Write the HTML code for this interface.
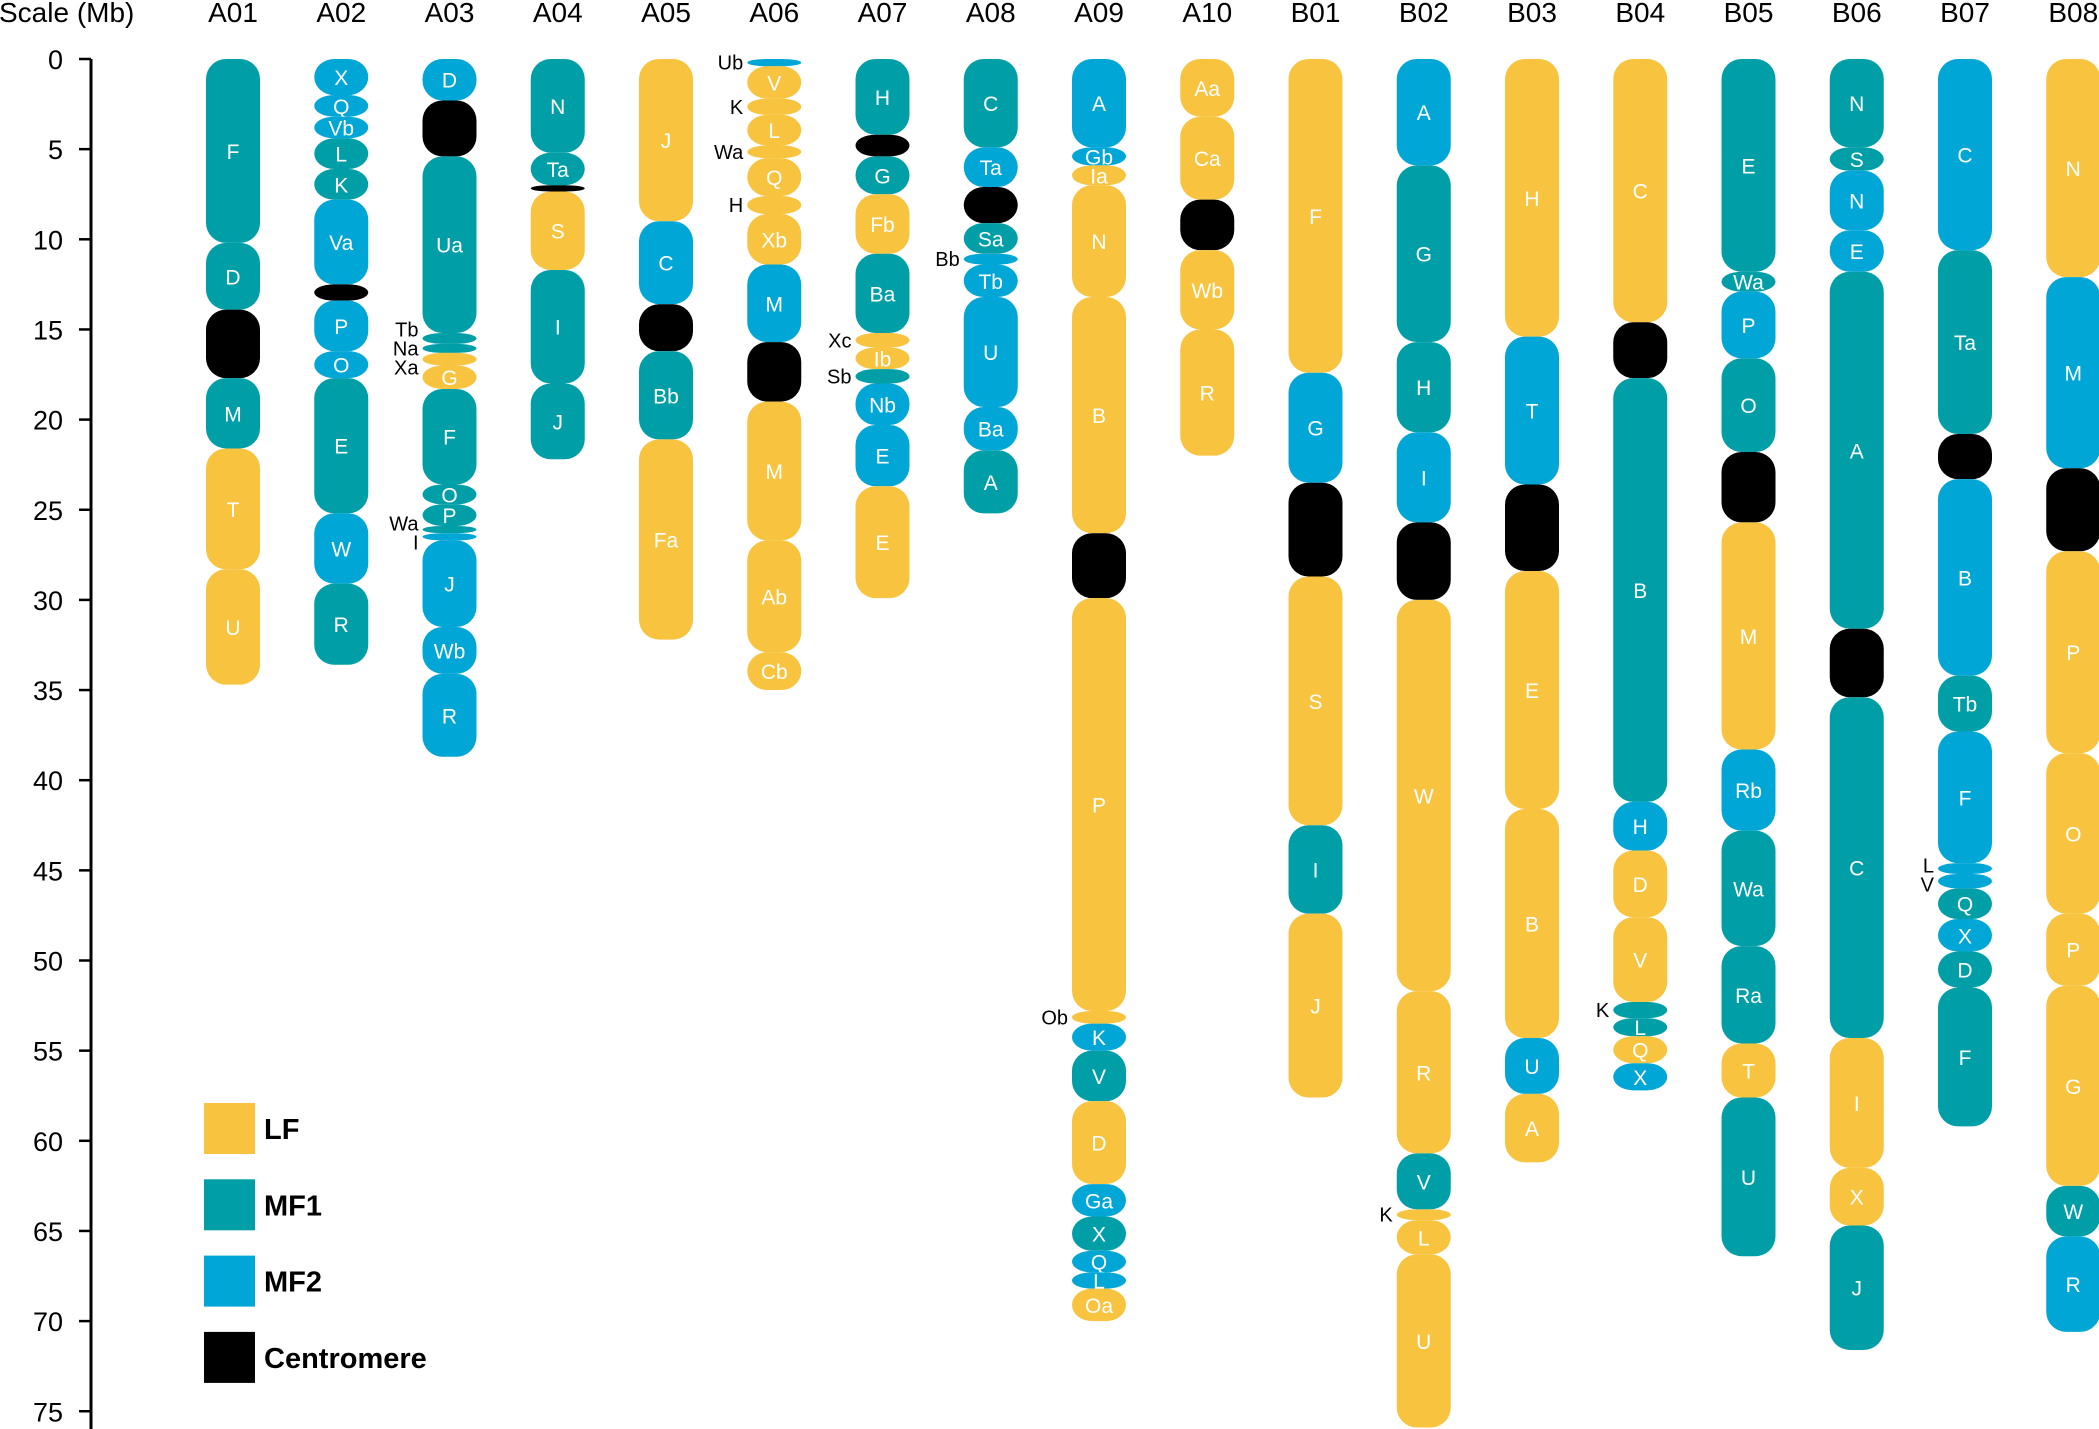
<!DOCTYPE html>
<html><head><meta charset="utf-8"><style>
html,body{margin:0;padding:0;background:#fff;}
svg{display:block;font-family:"Liberation Sans",Arial,sans-serif;}
</style></head><body>
<svg id="chart" width="2099" height="1429" viewBox="0 0 2099 1429" xmlns="http://www.w3.org/2000/svg"></svg>
<script>
const chromNames = ["A01","A02","A03","A04","A05","A06","A07","A08","A09","A10","B01","B02","B03","B04","B05","B06","B07","B08"];
const tickValues = [0,5,10,15,20,25,30,35,40,45,50,55,60,65,70,75];
const legendLabels = ["LF","MF1","MF2","Centromere"];
const legendTypes = ["LF","MF1","MF2","C"];
// segments: [label, type, start(Mb), end(Mb), outsideLabel]
const A01 = [["F","MF1",0,10.2],["D","MF1",10.2,13.9],["","C",13.9,17.7],["M","MF1",17.7,21.6],["T","LF",21.6,28.3],["U","LF",28.3,34.7]];
const A02 = [["X","MF2",0,2.0],["Q","MF2",2.0,3.2],["Vb","MF2",3.2,4.4],["L","MF1",4.4,6.1],["K","MF1",6.1,7.8],["Va","MF2",7.8,12.5],["","C",12.5,13.4],["P","MF2",13.4,16.2],["O","MF2",16.2,17.7],["E","MF1",17.7,25.2],["W","MF2",25.2,29.1],["R","MF1",29.1,33.6]];
const A03 = [["D","MF2",0,2.3],["","C",2.3,5.4],["Ua","MF1",5.4,15.2],["Tb","MF1",15.2,15.8,1],["Na","MF1",15.8,16.3,1],["Xa","LF",16.3,17.0,1],["G","LF",17.0,18.3],["F","MF1",18.3,23.6],["O","MF1",23.6,24.7],["P","MF1",24.7,25.9],["Wa","MF1",25.9,26.3,1],["I","MF2",26.3,26.7,1],["J","MF2",26.7,31.5],["Wb","MF2",31.5,34.1],["R","MF2",34.1,38.7]];
const A04 = [["N","MF1",0,5.2],["Ta","MF1",5.2,7.0],["","C",7.0,7.35],["S","LF",7.35,11.7],["I","MF1",11.7,18.0],["J","MF1",18.0,22.2]];
const A05 = [["J","LF",0,9.0],["C","MF2",9.0,13.6],["","C",13.6,16.2],["Bb","MF1",16.2,21.1],["Fa","LF",21.1,32.2]];
const A06 = [["Ub","MF2",0,0.4,1],["V","LF",0.4,2.2],["K","LF",2.2,3.1,1],["L","LF",3.1,4.8],["Wa","LF",4.8,5.5,1],["Q","LF",5.5,7.6],["H","LF",7.6,8.6,1],["Xb","LF",8.6,11.4],["M","MF2",11.4,15.7],["","C",15.7,19.0],["M","LF",19.0,26.7],["Ab","LF",26.7,32.9],["Cb","LF",32.9,35.0]];
const A07 = [["H","MF1",0,4.2],["","C",4.2,5.4],["G","MF1",5.4,7.5],["Fb","LF",7.5,10.8],["Ba","MF1",10.8,15.2],["Xc","LF",15.2,16.0,1],["Ib","LF",16.0,17.2],["Sb","MF1",17.2,18.0,1],["Nb","MF2",18.0,20.3],["E","MF2",20.3,23.7],["E","LF",23.7,29.9]];
const A08 = [["C","MF1",0,4.9],["Ta","MF2",4.9,7.1],["","C",7.1,9.1],["Sa","MF1",9.1,10.8],["Bb","MF2",10.8,11.4,1],["Tb","MF2",11.4,13.2],["U","MF2",13.2,19.3],["Ba","MF2",19.3,21.7],["A","MF1",21.7,25.2]];
const A09 = [["A","MF2",0,4.9],["Gb","MF2",4.9,5.9],["Ia","LF",5.9,7.0],["N","LF",7.0,13.2],["B","LF",13.2,26.3],["","C",26.3,29.9],["P","LF",29.9,52.8],["Ob","LF",52.8,53.5,1],["K","MF2",53.5,55.0],["V","MF1",55.0,57.8],["D","LF",57.8,62.4],["Ga","MF2",62.4,64.2],["X","MF1",64.2,66.1],["Q","MF2",66.1,67.3],["L","MF2",67.3,68.2],["Oa","LF",68.2,70.0]];
const A10 = [["Aa","LF",0,3.2],["Ca","LF",3.2,7.8],["","C",7.8,10.6],["Wb","LF",10.6,15.0],["R","LF",15.0,22.0]];
const B01 = [["F","LF",0,17.4],["G","MF2",17.4,23.5],["","C",23.5,28.7],["S","LF",28.7,42.5],["I","MF1",42.5,47.4],["J","LF",47.4,57.6]];
const B02 = [["A","MF2",0,5.9],["G","MF1",5.9,15.7],["H","MF1",15.7,20.7],["I","MF2",20.7,25.7],["","C",25.7,30.0],["W","LF",30.0,51.7],["R","LF",51.7,60.7],["V","MF1",60.7,63.8],["K","LF",63.8,64.4,1],["L","LF",64.4,66.3],["U","LF",66.3,75.9]];
const B03 = [["H","LF",0,15.4],["T","MF2",15.4,23.6],["","C",23.6,28.4],["E","LF",28.4,41.6],["B","LF",41.6,54.3],["U","MF2",54.3,57.4],["A","LF",57.4,61.2]];
const B04 = [["C","LF",0,14.6],["","C",14.6,17.7],["B","MF1",17.7,41.2],["H","MF2",41.2,43.9],["D","LF",43.9,47.6],["V","LF",47.6,52.3],["K","MF1",52.3,53.2,1],["L","MF1",53.2,54.2],["Q","LF",54.2,55.7],["X","MF2",55.7,57.2]];
const B05 = [["E","MF1",0,11.8],["Wa","MF1",11.8,12.9],["P","MF2",12.9,16.6],["O","MF1",16.6,21.8],["","C",21.8,25.7],["M","LF",25.7,38.3],["Rb","MF2",38.3,42.8],["Wa","MF1",42.8,49.2],["Ra","MF1",49.2,54.6],["T","LF",54.6,57.6],["U","MF1",57.6,66.4]];
const B06 = [["N","MF1",0,4.9],["S","MF1",4.9,6.2],["N","MF2",6.2,9.5],["E","MF2",9.5,11.8],["A","MF1",11.8,31.6],["","C",31.6,35.4],["C","MF1",35.4,54.3],["I","LF",54.3,61.5],["X","LF",61.5,64.7],["J","MF1",64.7,71.6]];
const B07 = [["C","MF2",0,10.6],["Ta","MF1",10.6,20.8],["","C",20.8,23.3],["B","MF2",23.3,34.2],["Tb","MF1",34.2,37.3],["F","MF2",37.3,44.6],["L","MF2",44.6,45.2,1],["V","MF2",45.2,46.0,1],["Q","MF1",46.0,47.7],["X","MF2",47.7,49.5],["D","MF1",49.5,51.5],["F","MF1",51.5,59.2]];
const B08 = [["N","LF",0,12.1],["M","MF2",12.1,22.7],["","C",22.7,27.3],["P","LF",27.3,38.5],["O","LF",38.5,47.4],["P","LF",47.4,51.4],["G","LF",51.4,62.5],["W","MF1",62.5,65.3],["R","MF2",65.3,70.6]];
const chromSegments = [A01,A02,A03,A04,A05,A06,A07,A08,A09,A10,B01,B02,B03,B04,B05,B06,B07,B08];

const COLORS = {LF:"#f8c440",MF1:"#009fa7",MF2:"#00a7d6",C:"#000000"};
const Y0 = 59, PX_PER_MB = 18.03;
const yScale = mb => Y0 + mb*PX_PER_MB;
const X0 = 233, X_STEP = 108.25, CW = 54;
const xScale = i => X0 + i*X_STEP;
const NS = "http://www.w3.org/2000/svg";
const svg = document.getElementById("chart");
function mk(tag, attrs, parent){ const e=document.createElementNS(NS,tag); for(const k in attrs) e.setAttribute(k,attrs[k]); (parent||svg).appendChild(e); return e; }

// spread outside labels so they don't overlap
function spreadLabels(ys, minGap){
  let clusters = ys.map(y=>({ys:[y]}));
  let changed=true;
  const pos = c => { const m=c.ys.reduce((a,b)=>a+b,0)/c.ys.length; return c.ys.map((_,k)=>m+(k-(c.ys.length-1)/2)*minGap); };
  while(changed){
    changed=false;
    for(let k=0;k<clusters.length-1;k++){
      const a=pos(clusters[k]), b=pos(clusters[k+1]);
      if(b[0]-a[a.length-1] < minGap){
        clusters[k]={ys:clusters[k].ys.concat(clusters[k+1].ys)};
        clusters.splice(k+1,1); changed=true; break;
      }
    }
  }
  return clusters.flatMap(pos);
}

// axis
const axisG = mk("g",{});


const axLine = mk("line",{x1:91,y1:Y0,x2:91,y2:1429,stroke:"#000","stroke-width":3},axisG);


tickValues.forEach(v=>{
  const y=yScale(v);
  const t=mk("line",{x1:79,y1:y,x2:91,y2:y,stroke:"#000","stroke-width":2.5},axisG);
  
  
  const l=mk("text",{x:63,y:y+10,"text-anchor":"end","font-size":27,fill:"#000"},axisG);
  
  
  l.textContent=v;
});
const at=mk("text",{x:-1,y:22,"font-size":28,fill:"#000"});


at.textContent="Scale (Mb)";

// chromosomes
chromNames.forEach((name,i)=>{
  const cx=xScale(i);
  const g=mk("g",{});
  
  
  const h=mk("text",{x:cx,y:22,"text-anchor":"middle","font-size":28,fill:"#000"},g);
  
  
  h.textContent=name;
  const outside=[];
  chromSegments[i].forEach(s=>{
    const y1=yScale(s[2]), y2=yScale(s[3]), hh=y2-y1;
    const r=mk("rect",{x:cx-CW/2,y:y1,width:CW,height:hh,rx:Math.min(20,CW/2),ry:Math.min(20,hh/2),fill:COLORS[s[1]]},g);
    
    
    if(s[0]){
      if(s[4]){
        outside.push({label:s[0], y:(y1+y2)/2});
      } else {
        const t=mk("text",{x:cx,y:(y1+y2)/2+8,"text-anchor":"middle","font-size":21,fill:"#fff"},g);
        
        
        t.textContent=s[0];
      }
    }
  });
  const spread=spreadLabels(outside.map(o=>o.y),19);
  outside.forEach((o,k)=>{
    const t=mk("text",{x:cx-CW/2-4,y:spread[k]+7,"text-anchor":"end","font-size":20,fill:"#000"},g);
    
    
    t.textContent=o.label;
  });
});

// legend
const lg=mk("g",{});


legendLabels.forEach((lab,i)=>{
  const y=1103+i*76.3;
  const r=mk("rect",{x:204,y:y,width:51,height:51,fill:COLORS[legendTypes[i]]},lg);
  
  
  const t=mk("text",{x:264,y:y+36,"font-size":29,"font-weight":"bold",fill:"#000"},lg);
  
  
  t.textContent=lab;
});
</script>
</body></html>
